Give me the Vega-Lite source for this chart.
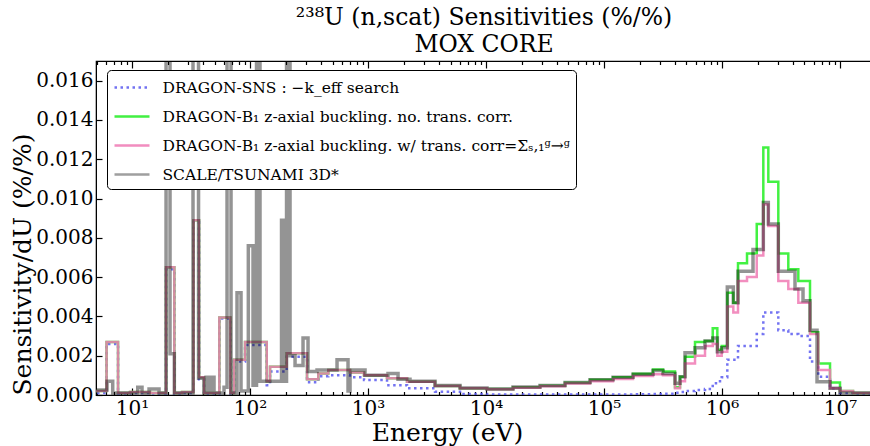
{
  "$schema": "https://vega.github.io/schema/vega-lite/v6.json",
  "width": 776,
  "height": 334,
  "autosize": {"type": "none"},
  "padding": {"left": 96, "top": 61, "right": 0, "bottom": 51},
  "background": "white",
  "title": {"text": ["²³⁸U (n,scat) Sensitivities (%/%)", "MOX CORE"], "fontSize": 23.5, "font": "DejaVu Serif, serif", "fontWeight": "normal", "lineHeight": 27, "offset": 4, "anchor": "middle", "color": "black"},
  "config": {
    "view": {"stroke": "black", "strokeWidth": 1.2},
    "axis": {"labelFont": "DejaVu Serif, serif", "titleFont": "DejaVu Serif, serif", "labelColor": "black", "titleColor": "black", "tickColor": "black", "domainColor": "black", "grid": false, "titleFontWeight": "normal", "labelOverlap": false, "labelFlush": false, "labelBound": false}
  },
  "datasets": {
    "d": [
      {"k":"A","E":4,"v":0.0001},{"k":"A","E":6.08,"v":0.0026},{"k":"A","E":7.61,"v":0.00005},{"k":"A","E":9.62,"v":0.0001},{"k":"A","E":14.21,"v":0.00005},{"k":"A","E":19.42,"v":0.0064},{"k":"A","E":22.83,"v":0.00005},{"k":"A","E":26.53,"v":0.0001},{"k":"A","E":33.2,"v":0.0088},{"k":"A","E":36.97,"v":0.0008},{"k":"A","E":40.76,"v":0.00005},{"k":"A","E":54.93,"v":0.0039},{"k":"A","E":68.1,"v":0.00005},{"k":"A","E":73.17,"v":0.0017},{"k":"A","E":90.7,"v":0.00255},{"k":"A","E":138.5,"v":0.0005},{"k":"A","E":147.7,"v":0.0012},{"k":"A","E":204.6,"v":0.00195},{"k":"A","E":304.1,"v":0.00065},{"k":"A","E":379.2,"v":0.00095},{"k":"A","E":460.8,"v":0.001},{"k":"A","E":703.9,"v":0.0009},{"k":"A","E":925,"v":0.00076},{"k":"A","E":1449,"v":0.0005},{"k":"A","E":2141,"v":0.00034},{"k":"A","E":3697,"v":0.00017},{"k":"A","E":6021,"v":0.00005},{"k":"A","E":10197,"v":0.00003},{"k":"A","E":16935,"v":0.00003},{"k":"A","E":28679,"v":0.00003},{"k":"A","E":46714,"v":0.00003},{"k":"A","E":76105,"v":0.00003},{"k":"A","E":119250,"v":0.00003},{"k":"A","E":176100,"v":0.00004},{"k":"A","E":260200,"v":0.00005},{"k":"A","E":316200,"v":0.00007},{"k":"A","E":399600,"v":0.00012},{"k":"A","E":440700,"v":0.00015},{"k":"A","E":485800,"v":0.0002},{"k":"A","E":590400,"v":0.00025},{"k":"A","E":717600,"v":0.0003},{"k":"A","E":834300,"v":0.0006},{"k":"A","E":912800,"v":0.0007},{"k":"A","E":994300,"v":0.0009},{"k":"A","E":1109000,"v":0.0018},{"k":"A","E":1247000,"v":0.0018},{"k":"A","E":1366000,"v":0.0025},{"k":"A","E":1629000,"v":0.0025},{"k":"A","E":1969000,"v":0.0031},{"k":"A","E":2239000,"v":0.0042},{"k":"A","E":2469000,"v":0.0042},{"k":"A","E":3000000,"v":0.0033},{"k":"A","E":3646000,"v":0.0031},{"k":"A","E":4433000,"v":0.003},{"k":"A","E":5569000,"v":0.0017},{"k":"A","E":6549000,"v":0.00093},{"k":"A","E":8230000,"v":0.00034},{"k":"A","E":10000000,"v":0.0001},{"k":"A","E":12890000,"v":0.00005},{"k":"A","E":20000000,"v":0.00005},
      {"k":"B","E":4,"v":0.0002},{"k":"B","E":6.08,"v":0.0027},{"k":"B","E":7.61,"v":0.0001},{"k":"B","E":9.62,"v":0.00015},{"k":"B","E":14.21,"v":0.0001},{"k":"B","E":19.42,"v":0.0065},{"k":"B","E":22.83,"v":0.0001},{"k":"B","E":26.53,"v":0.00015},{"k":"B","E":33.2,"v":0.0089},{"k":"B","E":36.97,"v":0.0009},{"k":"B","E":40.76,"v":0.0001},{"k":"B","E":54.93,"v":0.00395},{"k":"B","E":68.1,"v":0.0001},{"k":"B","E":73.17,"v":0.0018},{"k":"B","E":90.7,"v":0.0027},{"k":"B","E":138.5,"v":0.0007},{"k":"B","E":147.7,"v":0.00144},{"k":"B","E":204.6,"v":0.00213},{"k":"B","E":304.1,"v":0.0008},{"k":"B","E":379.2,"v":0.0011},{"k":"B","E":460.8,"v":0.00127},{"k":"B","E":703.9,"v":0.00115},{"k":"B","E":925,"v":0.001},{"k":"B","E":1449,"v":0.00085},{"k":"B","E":2141,"v":0.00068},{"k":"B","E":3697,"v":0.00046},{"k":"B","E":6021,"v":0.00034},{"k":"B","E":10197,"v":0.0003},{"k":"B","E":16935,"v":0.00039},{"k":"B","E":28679,"v":0.00047},{"k":"B","E":46714,"v":0.00062},{"k":"B","E":76105,"v":0.00077},{"k":"B","E":119250,"v":0.0009},{"k":"B","E":176100,"v":0.00108},{"k":"B","E":260200,"v":0.0013},{"k":"B","E":316200,"v":0.0012},{"k":"B","E":399600,"v":0.0004},{"k":"B","E":440700,"v":0.00093},{"k":"B","E":485800,"v":0.00195},{"k":"B","E":590400,"v":0.0027},{"k":"B","E":717600,"v":0.00275},{"k":"B","E":834300,"v":0.0034},{"k":"B","E":912800,"v":0.0023},{"k":"B","E":994300,"v":0.0025},{"k":"B","E":1109000,"v":0.0052},{"k":"B","E":1247000,"v":0.0047},{"k":"B","E":1366000,"v":0.0067},{"k":"B","E":1629000,"v":0.0072},{"k":"B","E":1969000,"v":0.0087},{"k":"B","E":2239000,"v":0.0126},{"k":"B","E":2469000,"v":0.01085},{"k":"B","E":3000000,"v":0.0072},{"k":"B","E":3646000,"v":0.0064},{"k":"B","E":4433000,"v":0.0058},{"k":"B","E":5569000,"v":0.0032},{"k":"B","E":6549000,"v":0.0016},{"k":"B","E":8230000,"v":0.00063},{"k":"B","E":10000000,"v":0.0002},{"k":"B","E":12890000,"v":0.0001},{"k":"B","E":20000000,"v":0.0001},
      {"k":"C","E":4,"v":0.0002},{"k":"C","E":6.08,"v":0.0027},{"k":"C","E":7.61,"v":0.0001},{"k":"C","E":9.62,"v":0.00015},{"k":"C","E":14.21,"v":0.0001},{"k":"C","E":19.42,"v":0.0065},{"k":"C","E":22.83,"v":0.0001},{"k":"C","E":26.53,"v":0.00015},{"k":"C","E":33.2,"v":0.0089},{"k":"C","E":36.97,"v":0.0009},{"k":"C","E":40.76,"v":0.0001},{"k":"C","E":54.93,"v":0.00395},{"k":"C","E":68.1,"v":0.0001},{"k":"C","E":73.17,"v":0.0018},{"k":"C","E":90.7,"v":0.0027},{"k":"C","E":138.5,"v":0.0007},{"k":"C","E":147.7,"v":0.00144},{"k":"C","E":204.6,"v":0.00213},{"k":"C","E":304.1,"v":0.0008},{"k":"C","E":379.2,"v":0.0011},{"k":"C","E":460.8,"v":0.00127},{"k":"C","E":703.9,"v":0.00115},{"k":"C","E":925,"v":0.001},{"k":"C","E":1449,"v":0.00085},{"k":"C","E":2141,"v":0.00068},{"k":"C","E":3697,"v":0.00046},{"k":"C","E":6021,"v":0.00034},{"k":"C","E":10197,"v":0.00029},{"k":"C","E":16935,"v":0.00037},{"k":"C","E":28679,"v":0.00044},{"k":"C","E":46714,"v":0.00058},{"k":"C","E":76105,"v":0.0007},{"k":"C","E":119250,"v":0.00082},{"k":"C","E":176100,"v":0.00097},{"k":"C","E":260200,"v":0.00105},{"k":"C","E":316200,"v":0.001},{"k":"C","E":399600,"v":0.00034},{"k":"C","E":440700,"v":0.0007},{"k":"C","E":485800,"v":0.0016},{"k":"C","E":590400,"v":0.002},{"k":"C","E":717600,"v":0.0025},{"k":"C","E":834300,"v":0.0026},{"k":"C","E":912800,"v":0.002},{"k":"C","E":994300,"v":0.0022},{"k":"C","E":1109000,"v":0.0045},{"k":"C","E":1247000,"v":0.0042},{"k":"C","E":1366000,"v":0.0058},{"k":"C","E":1629000,"v":0.006},{"k":"C","E":1969000,"v":0.0071},{"k":"C","E":2239000,"v":0.0097},{"k":"C","E":2469000,"v":0.0086},{"k":"C","E":3000000,"v":0.0058},{"k":"C","E":3646000,"v":0.0054},{"k":"C","E":4433000,"v":0.0047},{"k":"C","E":5569000,"v":0.0031},{"k":"C","E":6549000,"v":0.00127},{"k":"C","E":8230000,"v":0.00034},{"k":"C","E":10000000,"v":0.0002},{"k":"C","E":12890000,"v":0.0001},{"k":"C","E":20000000,"v":0.0001},
      {"k":"D","E":4,"v":0.00025},{"k":"D","E":6.14,"v":0.0007},{"k":"D","E":6.86,"v":0.0001},{"k":"D","E":11.18,"v":0.0004},{"k":"D","E":12.15,"v":0.0001},{"k":"D","E":13.94,"v":0.0003},{"k":"D","E":16.93,"v":0.0001},{"k":"D","E":19.42,"v":0.03},{"k":"D","E":20.99,"v":0.0021},{"k":"D","E":22.83,"v":0.0001},{"k":"D","E":32.87,"v":0.03},{"k":"D","E":36.61,"v":0.00085},{"k":"D","E":40.76,"v":0.0001},{"k":"D","E":42.38,"v":0.0009},{"k":"D","E":44.93,"v":0.0001},{"k":"D","E":46.72,"v":0.0009},{"k":"D","E":49.54,"v":0.0001},{"k":"D","E":60.21,"v":0.0004},{"k":"D","E":63.84,"v":0.03},{"k":"D","E":69.02,"v":0.0001},{"k":"D","E":77.58,"v":0.0052},{"k":"D","E":83.87,"v":0.0002},{"k":"D","E":96.74,"v":0.0076},{"k":"D","E":106,"v":0.0005},{"k":"D","E":113.5,"v":0.03},{"k":"D","E":121.5,"v":0.0007},{"k":"D","E":184.9,"v":0.0089},{"k":"D","E":196.1,"v":0.0007},{"k":"D","E":203.9,"v":0.03},{"k":"D","E":218.3,"v":0.002},{"k":"D","E":240.7,"v":0.0015},{"k":"D","E":281.3,"v":0.0029},{"k":"D","E":310.1,"v":0.0012},{"k":"D","E":369.7,"v":0.00127},{"k":"D","E":546.2,"v":0.0018},{"k":"D","E":676.9,"v":0.0002},{"k":"D","E":703.9,"v":0.00127},{"k":"D","E":943.3,"v":0.001},{"k":"D","E":1477,"v":0.0011},{"k":"D","E":1796,"v":0.0008},{"k":"D","E":2269,"v":0.0007},{"k":"D","E":3697,"v":0.00048},{"k":"D","E":6021,"v":0.00036},{"k":"D","E":10197,"v":0.00031},{"k":"D","E":16935,"v":0.00041},{"k":"D","E":28679,"v":0.00048},{"k":"D","E":46714,"v":0.00063},{"k":"D","E":76105,"v":0.00078},{"k":"D","E":119250,"v":0.0009},{"k":"D","E":176100,"v":0.00105},{"k":"D","E":260200,"v":0.00125},{"k":"D","E":316200,"v":0.0011},{"k":"D","E":399600,"v":0.0006},{"k":"D","E":440700,"v":0.00093},{"k":"D","E":485800,"v":0.00215},{"k":"D","E":590400,"v":0.0024},{"k":"D","E":717600,"v":0.00275},{"k":"D","E":834300,"v":0.0029},{"k":"D","E":912800,"v":0.0022},{"k":"D","E":994300,"v":0.0024},{"k":"D","E":1109000,"v":0.0055},{"k":"D","E":1247000,"v":0.0047},{"k":"D","E":1366000,"v":0.0063},{"k":"D","E":1831000,"v":0.0074},{"k":"D","E":2239000,"v":0.0098},{"k":"D","E":2469000,"v":0.0087},{"k":"D","E":3000000,"v":0.0063},{"k":"D","E":4155000,"v":0.0054},{"k":"D","E":4858000,"v":0.0048},{"k":"D","E":5569000,"v":0.0033},{"k":"D","E":6385000,"v":0.00068},{"k":"D","E":8230000,"v":0.00034},{"k":"D","E":10000000,"v":0.0001},{"k":"D","E":20000000,"v":0.0001}
    ]
  },
  "data": {"name": "d"},
  "resolve": {"axis": {"x": "independent"}},
  "layer": [
    {
      "transform": [{"filter": "datum.k != 'D'"}],
      "mark": {"type": "line", "interpolate": "step-after", "clip": true, "strokeCap": "butt", "opacity": 0.85},
      "encoding": {
        "x": {"field": "E", "type": "quantitative", "scale": {"type": "log", "domain": [4.95, 18670000], "nice": false},
          "axis": {"orient": "bottom", "values": [5,6,7,8,9,10,20,30,40,50,60,70,80,90,100,200,300,400,500,600,700,800,900,1000,2000,3000,4000,5000,6000,7000,8000,9000,10000,20000,30000,40000,50000,60000,70000,80000,90000,100000,200000,300000,400000,500000,600000,700000,800000,900000,1000000,2000000,3000000,4000000,5000000,6000000,7000000,8000000,9000000,10000000],
            "labelExpr": "abs(log(datum.value)/LN10 - round(log(datum.value)/LN10)) < 0.001 ? '10' + ['⁰','¹','²','³','⁴','⁵','⁶','⁷'][round(log(datum.value)/LN10)] : ''",
            "tickSize": {"condition": {"test": "abs(log(datum.value)/LN10 - round(log(datum.value)/LN10)) < 0.001", "value": -7}, "value": -3.5},
            "tickWidth": 1.2,
            "labelFontSize": 20, "labelPadding": 10,
            "title": "Energy (eV)", "titleFontSize": 25, "titleX": 351, "titleY": 45, "titleAlign": "center", "titleBaseline": "alphabetic"}},
        "y": {"field": "v", "type": "quantitative", "scale": {"domain": [0, 0.017], "nice": false},
          "axis": {"values": [0,0.002,0.004,0.006,0.008,0.01,0.012,0.014,0.016], "format": ".3f", "tickSize": -6, "tickWidth": 1.2, "labelFontSize": 20, "labelPadding": 9,
            "title": "Sensitivity/dU (%/%)", "titleFontSize": 25, "titleX": -66, "titleY": 203, "titleAngle": -90, "titleAlign": "center", "titleBaseline": "alphabetic"}},
        "color": {"field": "k", "type": "nominal", "scale": {"domain": ["A","B","C","D"], "range": ["#5a5af0", "#22ee22", "#f07ab4", "#8f8f8f"]},
          "legend": {"orient": "none", "legendX": 11, "legendY": 9, "title": null, "symbolType": "M-1.75,0L1.75,0", "symbolSize": 400, "symbolOffset": 7.5, "labelFont": "DejaVu Serif, serif", "labelFontSize": 15.5, "labelColor": "black", "rowPadding": 9, "padding": 6, "strokeColor": "black", "fillColor": "white", "cornerRadius": 4, "labelOffset": 19, "labelLimit": 600, "symbolOpacity": 1,
            "labelExpr": "datum.value == 'A' ? 'DRAGON-SNS : −k_eff search' : datum.value == 'B' ? 'DRAGON-B₁ z-axial buckling. no. trans. corr.' : datum.value == 'C' ? 'DRAGON-B₁ z-axial buckling. w/ trans. corr=Σₛ,₁ᵍ→ᵍ' : 'SCALE/TSUNAMI 3D*'"}},
        "strokeDash": {"field": "k", "type": "nominal", "scale": {"domain": ["A","B","C","D"], "range": [[2.5,3.5],[1,0],[1,0],[1,0]]}},
        "strokeWidth": {"field": "k", "type": "ordinal", "scale": {"domain": ["A","B","C","D"], "range": [2.5, 2.5, 3, 3.5]}}
      }
    },
    {
      "transform": [{"filter": "datum.k == 'D'"}],
      "mark": {"type": "line", "interpolate": "step-after", "clip": true, "strokeCap": "butt", "stroke": "#000000", "opacity": 0.42, "strokeWidth": 3.5},
      "encoding": {
        "x": {"field": "E", "type": "quantitative", "scale": {"type": "log", "domain": [4.95, 18670000], "nice": false},
          "axis": {"orient": "top", "values": [5,6,7,8,9,10,20,30,40,50,60,70,80,90,100,200,300,400,500,600,700,800,900,1000,2000,3000,4000,5000,6000,7000,8000,9000,10000,20000,30000,40000,50000,60000,70000,80000,90000,100000,200000,300000,400000,500000,600000,700000,800000,900000,1000000,2000000,3000000,4000000,5000000,6000000,7000000,8000000,9000000,10000000],
            "labels": false, "title": null,
            "tickSize": {"condition": {"test": "abs(log(datum.value)/LN10 - round(log(datum.value)/LN10)) < 0.001", "value": -7}, "value": -3.5},
            "tickWidth": 1.2}},
        "y": {"field": "v", "type": "quantitative", "scale": {"domain": [0, 0.017], "nice": false}}
      }
    }
  ]
}
